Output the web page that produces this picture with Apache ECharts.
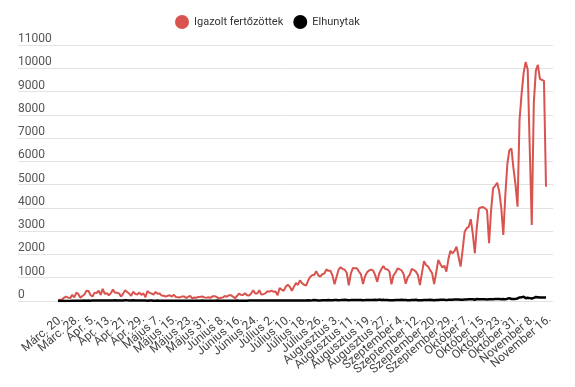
<!DOCTYPE html>
<html>
<head>
<meta charset="utf-8">
<script src="https://cdn.jsdelivr.net/npm/echarts@6/dist/echarts.min.js"></script>
<style>
html,body{margin:0;padding:0;background:#fff;}
#chart{width:575px;height:387px;}
</style>
</head>
<body>
<div id="chart"></div>
<script>
// ---- Data ----
const monthNames = ['Márc.', 'Ápr.', 'Május', 'Június', 'Július', 'Augusztus', 'Szeptember', 'Október', 'November'];
const monthDays = [31, 30, 31, 30, 31, 31, 30, 31, 30];
const startDay = 20;         // Márc. 20.
const endDay = 16;           // November 16.
const skippedDate = 'Szeptember 26.';
const labelEvery = 8;        // a tick label on every 8th day

const casesMar = [31,59,66,143,186,144,123,263,160,363,294,136];
const casesApr = [215,278,445,430,251,193,360,344,441,265,523,310,333,246,337,491,360,351,328,190,306,468,386,321,218,401,303,277,362,262];
const casesMay = [327,165,431,349,325,270,392,312,320,231,226,190,224,245,190,267,167,165,155,196,198,127,180,220,113,150,141,175,178,193,154];
const casesJun = [145,159,134,200,207,177,108,140,148,217,184,247,250,190,120,214,320,266,262,330,250,234,320,460,325,321,460,280,294,328];
const casesJul = [420,400,450,398,411,245,555,490,434,614,698,612,440,608,777,689,889,767,698,663,880,1030,1112,1120,1284,1104,1050,1151,1182,1356,1295];
const casesAug = [1295,1091,720,1046,1345,1454,1378,1344,1215,678,1172,1415,1409,1409,1267,1145,733,1060,1234,1310,1346,1305,1108,821,1189,1365,1504,1376,1358,1262,713];
const casesSep = [1105,1215,1402,1365,1311,1150,740,1016,1136,1378,1330,1262,1117,689,1210,1713,1545,1480,1333,1190,730,1221,1767,1591,1438,1520,1260,1800,2158];
const casesOct = [2050,2150,2330,1900,1475,2200,2980,3130,3186,3517,2880,2050,3200,3980,4016,4038,3980,3900,2480,3900,4848,4950,5080,4700,4000,2840,4550,5900,6480,6550,5700];
const casesNov = [5000,4050,7800,8900,9800,10270,9950,6600,3270,8500,9900,10150,9540,9500,9460,4910];

const deathsMar = [1,1,3,4,3,3,5,7,6,13,9,14];
const deathsApr = [13,18,15,21,16,21,19,23,18,18,21,22,25,22,24,20,31,20,17,17,26,33,28,26,18,30,23,20,22,26];
const deathsMay = [19,17,12,17,19,16,14,18,15,12,10,12,15,14,14,13,9,11,9,13,11,10,7,9,13,15,14,8,15,19,14];
const deathsJun = [6,14,12,11,11,17,10,10,7,12,16,10,16,12,9,17,14,14,12,13,14,17,20,19,22,20,24,21,17,19];
const deathsJul = [22,21,23,25,17,19,20,25,21,24,20,17,19,25,26,18,23,21,20,17,31,25,28,38,36,22,19,37,34,36,41];
const deathsAug = [36,33,41,46,37,38,41,51,45,35,39,47,38,46,42,44,31,38,46,45,42,39,53,43,60,45,52,38,46,34,29];
const deathsSep = [35,40,40,46,51,40,39,31,30,44,47,51,29,30,37,44,47,47,52,47,30,41,43,52,59,49,38,51,54];
const deathsOct = [51,61,69,68,56,58,66,67,75,71,72,54,84,80,77,72,75,69,76,79,76,87,85,86,75,84,70,95,122,86,89];
const deathsNov = [90,111,154,157,187,115,138,123,107,135,171,162,152,150,149,147];

const yTicks = [0,1000,2000,3000,4000,5000,6000,7000,8000,9000,10000,11000];
const seriesNames = ['Igazolt fertőzöttek', 'Elhunytak'];

// ---- Build ----
const categories = [];
for (let m = 0; m < monthNames.length; m++) {
  const first = m === 0 ? startDay : 1;
  const last = m === monthNames.length - 1 ? endDay : monthDays[m];
  for (let d = first; d <= last; d++) {
    const label = monthNames[m] + ' ' + d + '.';
    if (label !== skippedDate) categories.push(label);
  }
}
const cases = [].concat(casesMar, casesApr, casesMay, casesJun, casesJul, casesAug, casesSep, casesOct, casesNov);
const deaths = [].concat(deathsMar, deathsApr, deathsMay, deathsJun, deathsJul, deathsAug, deathsSep, deathsOct, deathsNov);

const yMax = yTicks[yTicks.length - 1];
const yStep = yTicks[1] - yTicks[0];
const FONT = 'Roboto, "Noto Sans", sans-serif';

const chart = echarts.init(document.getElementById('chart'), null, {renderer: 'canvas'});
chart.setOption({
  backgroundColor: '#ffffff',
  animation: false,
  textStyle: {fontFamily: FONT},
  legend: {
    data: seriesNames,
    left: 170,
    top: 10,
    icon: 'circle',
    itemWidth: 14,
    itemHeight: 14,
    itemGap: 10,
    textStyle: {fontSize: 11, color: '#333', fontFamily: FONT}
  },
  grid: [
    {left: 18, right: 22, top: 45, bottom: 86},
    {left: 58, right: 29, top: 45, bottom: 86}
  ],
  xAxis: [
    {gridIndex: 0, type: 'value', show: false, min: 0, max: 1},
    {
      gridIndex: 1,
      type: 'category',
      data: categories,
      boundaryGap: false,
      axisLine: {show: false},
      axisTick: {show: false},
      axisLabel: {
        interval: 0,
        rotate: 40,
        margin: 12,
        verticalAlign: 'top',
        hideOverlap: false,
        fontSize: 12,
        color: '#444',
        fontFamily: FONT,
        formatter: function (value, index) {
          return index % labelEvery === 0 ? value : '';
        }
      }
    }
  ],
  yAxis: [
    {
      gridIndex: 0,
      type: 'value',
      min: 0, max: yMax, interval: yStep,
      axisLine: {show: false},
      axisTick: {show: false},
      splitLine: {lineStyle: {color: '#e3e3e3', width: 1}},
      axisLabel: {
        align: 'left',
        verticalAlign: 'bottom',
        margin: 0,
        padding: [0, 0, 0, 0],
        fontSize: 12,
        color: '#555',
        fontFamily: FONT,
        formatter: function (v) { return String(v); }
      }
    },
    {
      gridIndex: 1,
      type: 'value',
      min: 0, max: yMax, interval: yStep,
      show: false,
      splitLine: {show: false}
    }
  ],
  series: [
    {
      name: seriesNames[0],
      type: 'line',
      xAxisIndex: 1, yAxisIndex: 1,
      data: cases,
      showSymbol: false,
      symbol: 'circle',
      itemStyle: {color: '#d9534f'},
      lineStyle: {color: '#d9534f', width: 2},
      z: 3
    },
    {
      name: seriesNames[1],
      type: 'line',
      xAxisIndex: 1, yAxisIndex: 1,
      data: deaths,
      showSymbol: false,
      symbol: 'circle',
      itemStyle: {color: '#000000'},
      lineStyle: {color: '#000000', width: 2.5},
      z: 4
    }
  ]
});
</script>
</body>
</html>
